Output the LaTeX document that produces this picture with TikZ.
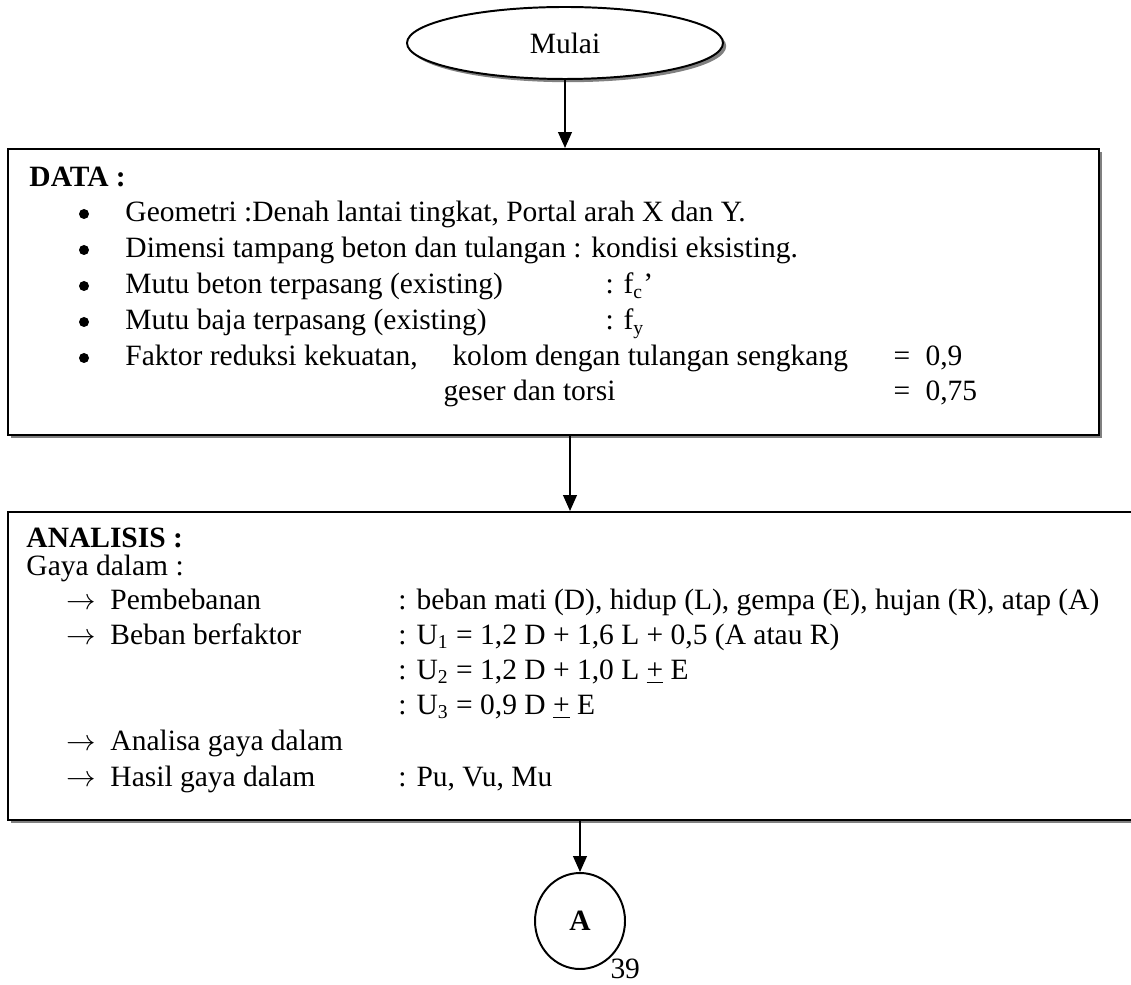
\documentclass[tikz,border=0pt]{standalone}
\usepackage{fontspec}
\setmainfont{Liberation Serif}
\usepackage{tikz}
\usetikzlibrary{
	arrows.meta,
	positioning,
	shadows,
	shapes.geometric
}
\newcommand\Unit{0.407pt}
\tikzstyle{every picture}+=[>={Triangle[length=6.5pt,width=5.6pt]}]

\begin{document}
\begin{tikzpicture}[
		x=\Unit, y=-\Unit,
		every node/.style={font=\fontsize{12pt}{14pt}\selectfont},
		txt/.style={anchor=base west, inner sep=0pt},
		dot/.style={circle, fill, inner sep=0pt, minimum size=10*\Unit},
		castshadow/.style={drop shadow={shadow xshift=1.3pt, shadow yshift=-1.3pt, fill=black!50, opacity=1}},
		panel/.style={rectangle, draw, line width=0.8pt, fill=white, castshadow, inner sep=0pt},
		link/.style={->, line width=0.7pt}
	]
	\useasboundingbox (0,0) rectangle (1131,985);

	\node[ellipse, draw, line width=0.8pt, fill=white, castshadow,
		minimum width=316*\Unit, minimum height=72*\Unit] (mulai) at (565,43) {Mulai};

	\node[panel, minimum width=1091*\Unit, minimum height=286*\Unit] (data) at (553.5,292) {};
	\node[panel, minimum width=1137*\Unit, minimum height=308*\Unit] (analisis) at (576.5,666) {};

	% DATA
	\node[txt] (dataHead) at (29,187) {\textbf{DATA :}};
	\foreach \y/\name/\line in {
			222/geo/{Geometri :Denah lantai tingkat, Portal arah X dan Y.},
			258/dim/{Dimensi tampang beton dan tulangan : kondisi eksisting.},
			294/fc/{Mutu beton terpasang (existing)},
			330/fy/{Mutu baja terpasang (existing)},
			366/phi/{Faktor reduksi kekuatan,}} {
		\node[dot] (bul-\name) at (84,\y-8) {};
		\node[txt] (\name) at (125,\y) {\line};
	}
	\node[txt] (fc-val) at (605,294) {: f\textsubscript{c}’};
	\node[txt] (fy-val) at (605,330) {: f\textsubscript{y}};
	\node[txt] (kolom) at (452,366) {kolom dengan tulangan sengkang};
	\node[txt] (geser) at (443,401) {geser dan torsi};
	\foreach \y/\name/\val in {366/phi1/{0,9}, 401/phi2/{0,75}} {
		\node[txt] (eq-\name) at (893,\y) {=};
		\node[txt] (\name) at (925,\y) {\val};
	}

	% ANALISIS
	\node[txt] (anaHead) at (26,548) {\textbf{ANALISIS :}};
	\node[txt] (gaya) at (26,575) {Gaya dalam :};
	\foreach \y/\name/\line in {
			609/beban/Pembebanan,
			644/faktor/Beban berfaktor,
			750/analisa/Analisa gaya dalam,
			786/hasil/Hasil gaya dalam} {
		\node[txt] (arr-\name) at (66,\y) {$\rightarrow$};
		\node[txt] (\name) at (110,\y) {\line};
	}
	\foreach \y/\name/\line in {
			609/beban-val/{: beban mati (D), hidup (L), gempa (E), hujan (R), atap (A)},
			644/u1/{: U\textsubscript{1} = 1,2 D + 1,6 L + 0,5 (A atau R)},
			679/u2/{: U\textsubscript{2} = 1,2 D + 1,0 L \underline{+} E},
			714/u3/{: U\textsubscript{3} = 0,9 D \underline{+} E},
			786/hasil-val/{: Pu, Vu, Mu}} {
		\node[txt] (\name) at (398,\y) {\line};
	}

	\node[ellipse, draw, line width=0.8pt, minimum width=90*\Unit, minimum height=96*\Unit,
		font=\fontsize{12pt}{14pt}\selectfont\bfseries] (A) at (580,921) {A};
	\node[txt] (page) at (610,978) {39};

	\draw[link] (mulai.south) -- (mulai.south |- data.north);
	\coordinate (mid) at (570,0);
	\draw[link] (mid |- data.south) -- (mid |- analisis.north);
	\draw[link] (A.north |- analisis.south) -- (A.north);

\end{tikzpicture}
\end{document}
